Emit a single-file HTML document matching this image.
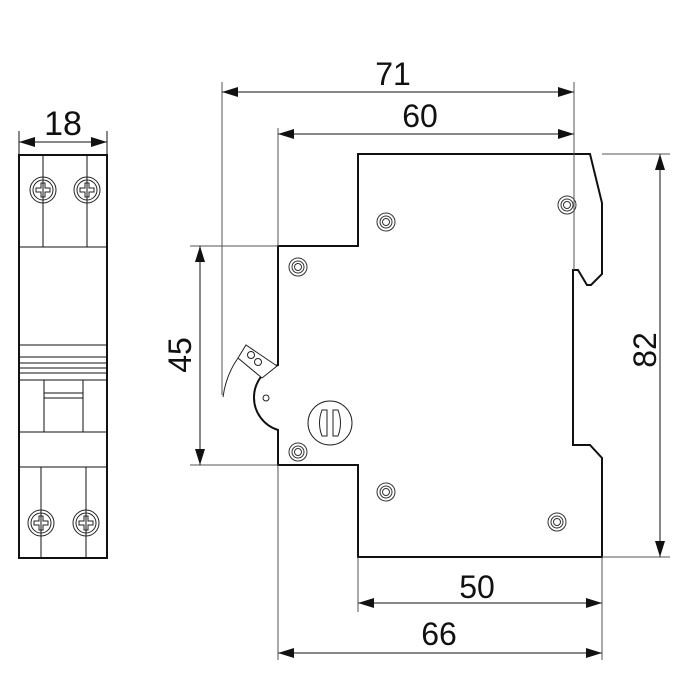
<!DOCTYPE html>
<html><head><style>body{margin:0;background:#fff}svg{display:block}text{font-family:"Liberation Sans",sans-serif;font-size:32px;fill:#111}</style></head>
<body>
<svg width="694" height="699" viewBox="0 0 694 699" xmlns="http://www.w3.org/2000/svg">
<defs>
<marker id="a" viewBox="0 0 16 10" refX="16" refY="5" markerWidth="16" markerHeight="10" markerUnits="userSpaceOnUse" orient="auto-start-reverse"><path d="M0,0L16,5L0,10z" fill="#111"/></marker>
<g id="s"><circle r="13" fill="none" stroke="#222" stroke-width="1"/><circle r="10" fill="none" stroke="#222" stroke-width="1"/><path d="M-2,-7h4v5h5v4h-5v5h-4v-5h-5v-4h5z" fill="none" stroke="#222" stroke-width="1"/></g>
<g id="r"><circle r="9" fill="none" stroke="#333" stroke-width="1"/><circle r="6" fill="none" stroke="#333" stroke-width="1"/><circle r="3.5" fill="none" stroke="#333" stroke-width="1"/></g>
</defs>
<g stroke="#111" fill="none">
<rect x="19" y="155" width="88" height="403" stroke-width="2"/>
<g stroke-width="1">
<line x1="43" y1="155" x2="43" y2="247"/><line x1="87" y1="155" x2="87" y2="247"/>
<line x1="19" y1="247" x2="107" y2="247"/>
<line x1="19" y1="345" x2="107" y2="345"/><line x1="19" y1="357" x2="107" y2="357"/>
<line x1="19" y1="363" x2="107" y2="363"/><line x1="19" y1="368" x2="107" y2="368"/>
<line x1="19" y1="373" x2="107" y2="373"/><line x1="19" y1="380" x2="107" y2="380"/>
<rect x="44" y="380" width="39" height="52"/>
<line x1="44" y1="393" x2="83" y2="393"/><line x1="44" y1="398" x2="83" y2="398"/>
<line x1="19" y1="432" x2="107" y2="432"/>
<line x1="19" y1="467" x2="107" y2="467"/>
<line x1="41" y1="467" x2="41" y2="558"/><line x1="86" y1="467" x2="86" y2="558"/>
<line x1="19" y1="131" x2="19" y2="155"/><line x1="107" y1="131" x2="107" y2="155"/>
<line x1="19" y1="142" x2="107" y2="142" marker-start="url(#a)" marker-end="url(#a)"/>
</g></g>
<use href="#s" x="43" y="190"/><use href="#s" x="87" y="190"/>
<use href="#s" x="41" y="523"/><use href="#s" x="86" y="523"/>
<text x="63" y="135" text-anchor="middle" style="font-size:34px">18</text>
<path d="M358,154H590L602,203V274L591,285H587L578,270H573V445H590L602,458V557H358V465H278V430A34,34 0 0 1 278,365V246H358Z" fill="#fff" stroke="#111" stroke-width="2"/>
<g stroke="#222" fill="none" stroke-width="1">
<path d="M238,358L246,345L277,366L262,378Z" fill="#fff"/>
<path d="M238,358Q226,375 223,397"/>
<circle cx="251" cy="355" r="3.5"/><circle cx="258" cy="362" r="3.5"/>
<circle cx="266" cy="398" r="3"/>
<circle cx="330" cy="423" r="22"/>
<path d="M327,410H322Q317,423 322,436H327Z"/><path d="M333,410H338Q343,423 338,436H333Z"/>
</g>
<use href="#r" x="386" y="222"/><use href="#r" x="567" y="205"/><use href="#r" x="298" y="267"/>
<use href="#r" x="298" y="452"/><use href="#r" x="386" y="492"/><use href="#r" x="557" y="522"/>
<g stroke="#555" stroke-width="1" fill="none">
<line x1="222" y1="82" x2="222" y2="395"/>
<line x1="574" y1="82" x2="574" y2="270"/>
<line x1="278" y1="128" x2="278" y2="246"/>
<line x1="190" y1="246" x2="278" y2="246"/>
<line x1="190" y1="465" x2="278" y2="465"/>
<line x1="602" y1="154" x2="670" y2="154"/>
<line x1="602" y1="557" x2="670" y2="557"/>
<line x1="358" y1="557" x2="358" y2="612"/>
<line x1="278" y1="465" x2="278" y2="660"/>
<line x1="602" y1="557" x2="602" y2="660"/>
</g>
<g stroke="#111" stroke-width="1">
<line x1="222" y1="92" x2="574" y2="92" marker-start="url(#a)" marker-end="url(#a)"/>
<line x1="278" y1="134" x2="574" y2="134" marker-start="url(#a)" marker-end="url(#a)"/>
<line x1="200" y1="246" x2="200" y2="465" marker-start="url(#a)" marker-end="url(#a)"/>
<line x1="660" y1="154" x2="660" y2="557" marker-start="url(#a)" marker-end="url(#a)"/>
<line x1="358" y1="603" x2="602" y2="603" marker-start="url(#a)" marker-end="url(#a)"/>
<line x1="278" y1="653" x2="602" y2="653" marker-start="url(#a)" marker-end="url(#a)"/>
</g>
<text x="393" y="85" text-anchor="middle">71</text>
<text x="420" y="127" text-anchor="middle">60</text>
<text x="477" y="598" text-anchor="middle">50</text>
<text x="439" y="645" text-anchor="middle">66</text>
<text transform="translate(191,355) rotate(-90)" text-anchor="middle">45</text>
<text transform="translate(656,350) rotate(-90)" text-anchor="middle">82</text>
</svg>
</body></html>
